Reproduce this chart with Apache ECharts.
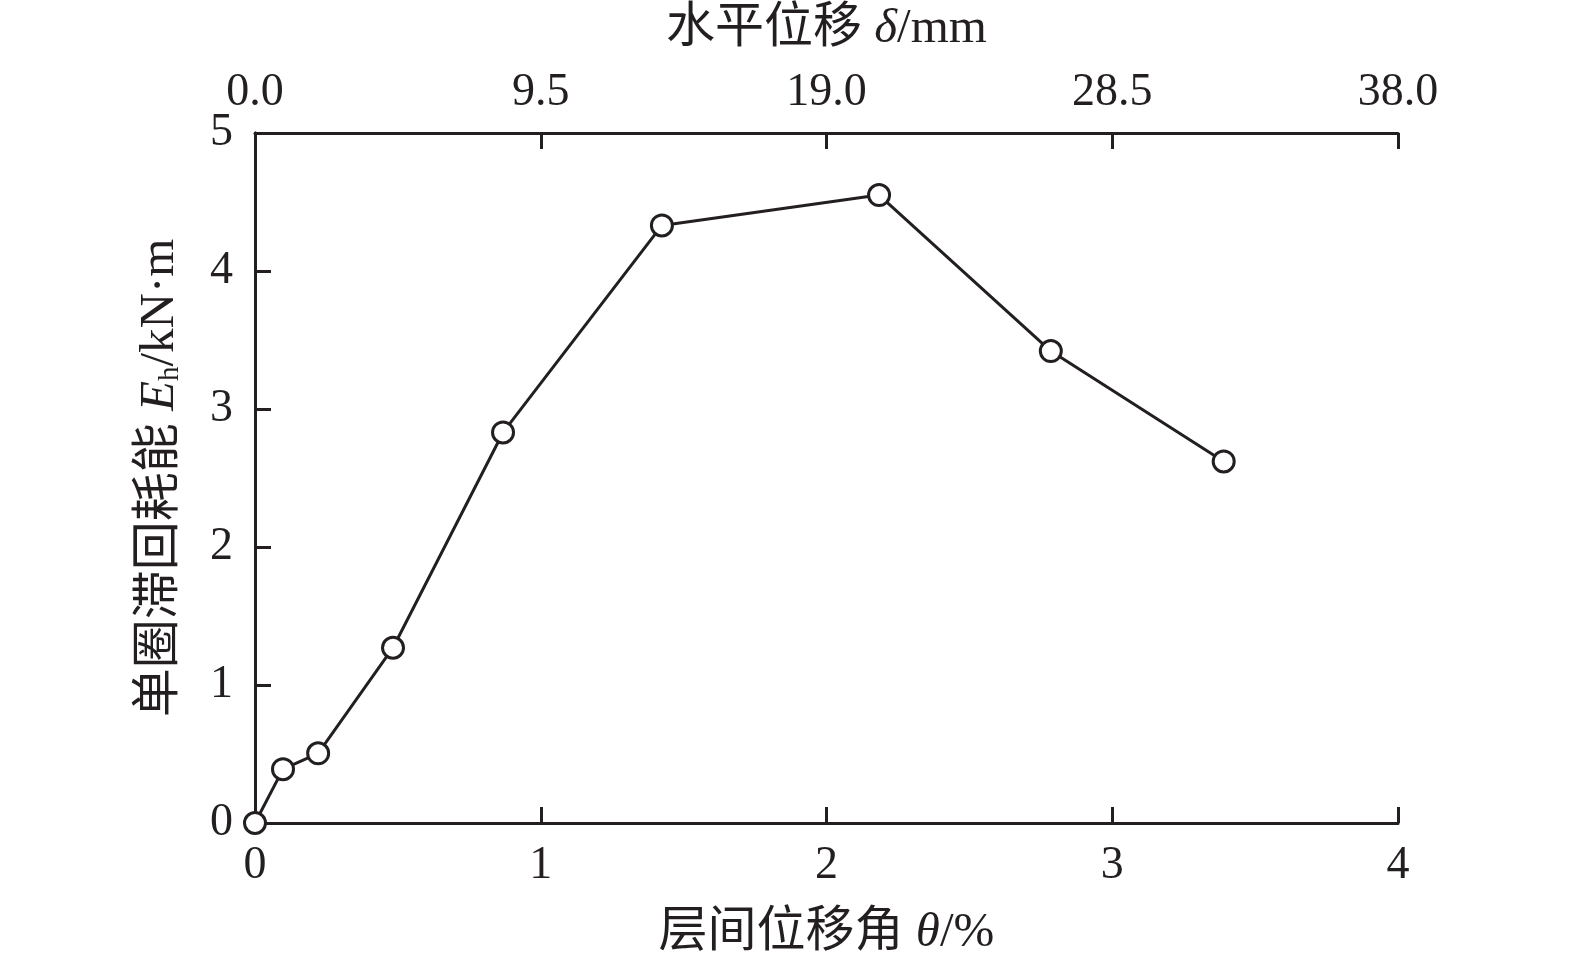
<!DOCTYPE html>
<html>
<head>
<meta charset="utf-8">
<script src="https://cdn.jsdelivr.net/npm/echarts@6/dist/echarts.min.js"></script>
<style>html,body{margin:0;padding:0;background:#fff}#c{width:1575px;height:965px}</style>
</head>
<body>
<div id="c"></div>
<script>
var driftAngle = [0, 0.098, 0.221, 0.483, 0.868, 1.424, 2.184, 2.785, 3.39];
var energy = [0, 0.39, 0.505, 1.27, 2.83, 4.33, 4.55, 3.42, 2.62];
var bottomTicks = [0, 1, 2, 3, 4];
var topTicks = [0.0, 9.5, 19.0, 28.5, 38.0];
var yTicks = [0, 1, 2, 3, 4, 5];

var INK = '#231f20';
var FONT = '"Liberation Serif", "Noto Sans CJK SC", serif';
var FS = 46;
var NFS = 49;

var chart = echarts.init(document.getElementById('c'));
var axisCommon = {
  axisLine: {show: true, onZero: false, lineStyle: {color: INK, width: 3}},
  axisTick: {show: true, inside: true, length: 16, lineStyle: {color: INK, width: 3}},
  splitLine: {show: false},
  axisLabel: {color: INK, fontFamily: FONT, fontSize: FS}
};
chart.setOption({
  animation: false,
  backgroundColor: '#fff',
  grid: {left: 255, right: 177, top: 133, bottom: 142},
  xAxis: [
    Object.assign({}, axisCommon, {
      type: 'value', position: 'bottom',
      min: bottomTicks[0], max: bottomTicks[bottomTicks.length - 1], interval: 1,
      name: '层间位移角 {i|θ}/%', nameLocation: 'middle', nameGap: 86,
      nameTextStyle: {color: INK, fontFamily: FONT, fontSize: NFS,
        rich: {i: {fontStyle: 'italic', fontFamily: FONT, fontSize: NFS, color: INK}}},
      axisLabel: Object.assign({}, axisCommon.axisLabel, {margin: 20})
    }),
    Object.assign({}, axisCommon, {
      type: 'value', position: 'top',
      min: topTicks[0], max: topTicks[topTicks.length - 1], interval: 9.5,
      name: '水平位移 {i|δ}/mm', nameLocation: 'middle', nameGap: 79,
      nameTextStyle: {color: INK, fontFamily: FONT, fontSize: NFS,
        rich: {i: {fontStyle: 'italic', fontFamily: FONT, fontSize: NFS, color: INK}}},
      axisLabel: Object.assign({}, axisCommon.axisLabel, {margin: 17,
        formatter: function (v) { return v.toFixed(1); }})
    })
  ],
  yAxis: [
    Object.assign({}, axisCommon, {
      type: 'value', position: 'left',
      min: yTicks[0], max: yTicks[yTicks.length - 1], interval: 1,
      name: '单圈滞回耗能 {i|E}{s|h}/kN·m', nameLocation: 'middle', nameGap: 70, nameRotate: 90,
      nameTextStyle: {color: INK, fontFamily: FONT, fontSize: NFS,
        rich: {
          i: {fontStyle: 'italic', fontFamily: FONT, fontSize: NFS, color: INK},
          s: {fontFamily: FONT, fontSize: 29, color: INK, verticalAlign: 'bottom', lineHeight: 29}
        }},
      axisLabel: Object.assign({}, axisCommon.axisLabel, {margin: 22})
    }),
    {
      type: 'value', position: 'right', min: 0, max: 5,
      axisLine: {show: true, lineStyle: {color: INK, width: 3}},
      axisTick: {show: false}, axisLabel: {show: false}, splitLine: {show: false}
    }
  ],
  series: [{
    type: 'line',
    xAxisIndex: 0, yAxisIndex: 0,
    data: driftAngle.map(function (t, i) { return [t, energy[i]]; }),
    symbol: 'circle', symbolSize: 21,
    lineStyle: {color: INK, width: 3},
    itemStyle: {color: '#fff', borderColor: INK, borderWidth: 3},
    clip: false,
    z: 3
  }]
});
</script>
</body>
</html>
